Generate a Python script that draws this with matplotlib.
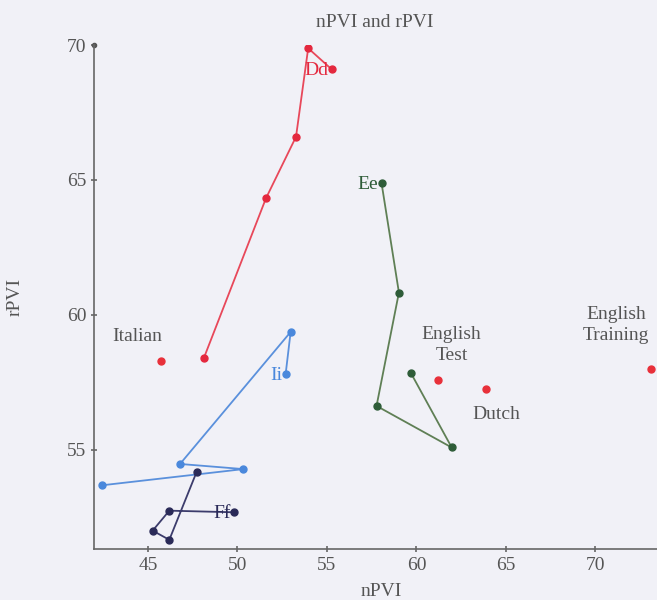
import matplotlib
matplotlib.use('Agg')
import matplotlib.pyplot as plt

plt.rcParams['font.family'] = ['Liberation Serif', 'DejaVu Serif']

# trajectories (nPVI, rPVI), each ending at the labelled point
dd_x = [48.13, 51.59, 53.27, 53.95, 55.26]
dd_y = [58.42, 64.32, 66.60, 69.88, 69.10]

ii_x = [42.43, 50.33, 46.79, 52.97, 52.69]
ii_y = [53.69, 54.29, 54.48, 59.37, 57.81]

ff_x = [47.72, 46.19, 45.26, 46.19, 49.80]
ff_y = [54.19, 51.67, 52.01, 52.75, 52.69]

ee_x = [59.68, 61.97, 57.77, 59.02, 58.05]
ee_y = [57.86, 55.09, 56.63, 60.83, 64.88]

# reference languages
lang_names = ['Italian', 'English\nTest', 'Dutch', 'English\nTraining']
lang_x = [45.71, 61.22, 63.88, 73.10]
lang_y = [58.31, 57.59, 57.25, 58.00]
lang_lx = [44.37, 61.97, 64.48, 71.15]
lang_ly = [59.19, 58.89, 56.30, 59.63]

bg = '#f1f1f7'
txt = '#555555'

fig = plt.figure(figsize=(6.57, 6.0), dpi=100, facecolor=bg)
ax = fig.add_axes([0.143, 0.085, 0.857, 0.84])
ax.set_facecolor(bg)

series = [
    (dd_x, dd_y, '#e8485a', '#e4283e', 'Dd'),
    (ii_x, ii_y, '#5a90dc', '#4a88dc', 'Ii'),
    (ff_x, ff_y, '#3c3c6c', '#2a2a58', 'Ff'),
    (ee_x, ee_y, '#5f7f55', '#2e5c38', 'Ee'),
]
for xs, ys, lc, mc, name in series:
    ax.plot(xs, ys, '-', color=lc, lw=1.3, zorder=2)
    ax.plot(xs, ys, 'o', color=mc, ms=5, zorder=3)
    ax.text(xs[-1] - 0.2, ys[-1] - 0.05, name, color=mc, fontsize=14,
            ha='right', va='center')

ax.plot(lang_x, lang_y, 'o', color='#e8303a', ms=5, ls='none', zorder=3)
for name, lx, ly in zip(lang_names, lang_lx, lang_ly):
    ax.text(lx, ly, name, color=txt, fontsize=14, ha='center', va='center',
            linespacing=1.25)

ax.set_xlim(41.98, 73.44)
ax.set_ylim(51.33, 70.0)
ax.set_xticks([45, 50, 55, 60, 65, 70])
ax.set_yticks([55, 60, 65, 70])
for s in ['top', 'right']:
    ax.spines[s].set_visible(False)
for s in ['left', 'bottom']:
    ax.spines[s].set_color('#666666')
    ax.spines[s].set_linewidth(1.2)
ax.tick_params(colors='#666666', labelcolor=txt, labelsize=14,
               direction='inout', length=4, width=1.2)
ax.plot([41.98], [70.0], 'o', color='#555555', ms=3, clip_on=False)

ax.set_xlabel('nPVI', color=txt, fontsize=14)
ax.set_ylabel('rPVI', color=txt, fontsize=14)
ax.xaxis.set_label_coords(0.51, -0.068)
ax.yaxis.set_label_coords(-0.125, 0.5)
fig.text(0.571, 0.963, 'nPVI and rPVI', color=txt, fontsize=14,
         ha='center', va='center')

fig.savefig('out.png', dpi=100, facecolor=bg)
